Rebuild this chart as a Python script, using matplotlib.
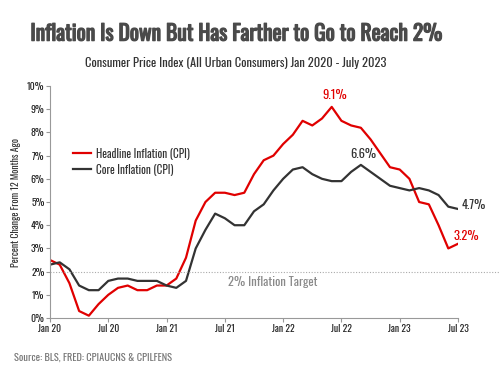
import matplotlib
matplotlib.use("Agg")
import matplotlib.pyplot as plt
from matplotlib import font_manager as fm
import matplotlib.patheffects as pe

names = {f.name for f in fm.fontManager.ttflist}
for cand in ['Oswald', 'Barlow Condensed', 'Fira Sans Condensed', 'Archivo Narrow']:
    if cand in names:
        MAIN = cand
        break
else:
    MAIN = 'DejaVu Sans'
plt.rcParams['font.family'] = [MAIN, 'DejaVu Sans']

months = [f"{y}-{m:02d}" for y in range(2020, 2024) for m in range(1, 13)][:43]
headline = [2.5, 2.3, 1.5, 0.3, 0.1, 0.6, 1.0, 1.3, 1.4, 1.2, 1.2, 1.4,
            1.4, 1.7, 2.6, 4.2, 5.0, 5.4, 5.4, 5.3, 5.4, 6.2, 6.8, 7.0,
            7.5, 7.9, 8.5, 8.3, 8.6, 9.1, 8.5, 8.3, 8.2, 7.7, 7.1, 6.5,
            6.4, 6.0, 5.0, 4.9, 4.0, 3.0, 3.2]
core = [2.3, 2.4, 2.1, 1.4, 1.2, 1.2, 1.6, 1.7, 1.7, 1.6, 1.6, 1.6,
        1.4, 1.3, 1.6, 3.0, 3.8, 4.5, 4.3, 4.0, 4.0, 4.6, 4.9, 5.5,
        6.0, 6.4, 6.5, 6.2, 6.0, 5.9, 5.9, 6.3, 6.6, 6.3, 6.0, 5.7,
        5.6, 5.5, 5.6, 5.5, 5.3, 4.8, 4.7]
xtick_labels = ["Jan 20", "Jul 20", "Jan 21", "Jul 21", "Jan 22", "Jul 22", "Jan 23", "Jul 23"]
ytick_labels = [f"{v}%" for v in range(0, 11)]
target = 2.0

RED = '#e00000'
DARK = '#333333'
GRAY = '#8a8a8a'

fig = plt.figure(figsize=(5, 3.74), dpi=100)
ax = fig.add_axes([0.1, 0.1497, 0.816, 0.6203])
x = list(range(len(months)))
ax.plot(x, headline, color=RED, lw=1.6, label='Headline Inflation (CPI)')
ax.plot(x, core, color=DARK, lw=1.6, label='Core Inflation (CPI)')
ax.axhline(target, color='#aaaaaa', lw=0.8, ls=(0, (1, 1.5)), xmax=1.1, clip_on=False)
ax.set_xlim(0, 42)
ax.set_ylim(0, 10)
ax.set_xticks(range(0, 43, 6))
ax.set_xticklabels(xtick_labels)
ax.set_yticks(range(0, 11))
ax.set_yticklabels(ytick_labels)
for s in ['top', 'right']:
    ax.spines[s].set_visible(False)
for s in ['left', 'bottom']:
    ax.spines[s].set_color('#999999')
    ax.spines[s].set_linewidth(0.8)
ax.tick_params(colors='#999999', length=3, width=0.8, labelsize=7, labelcolor='#222222', pad=1)
ax.set_ylabel('Percent Change From 12 Months Ago', fontsize=7, color='#333333', labelpad=4)

ax.text(18.3, 1.4, '2% Inflation Target', color=GRAY, fontsize=9)
ax.annotate('9.1%', (29, 9.1), xytext=(2, 6), textcoords='offset points', ha='center', color=RED, fontsize=9)
ax.annotate('6.6%', (32, 6.6), xytext=(2, 5), textcoords='offset points', ha='center', color=DARK, fontsize=9)
ax.annotate('4.7%', (42, 4.7), xytext=(2.5, 0), textcoords='offset points', ha='left', color=DARK, fontsize=9)
ax.annotate('3.2%', (42, 3.2), xytext=(-3, 3), textcoords='offset points', ha='left', color=RED, fontsize=9)

ax.legend(loc='upper left', bbox_to_anchor=(0.045, 0.757), frameon=False, fontsize=8, handlelength=1.6,
          handletextpad=0.45, labelcolor='#333333', borderaxespad=0, labelspacing=0.4)

fig.text(0.472, 0.91, 'Inflation Is Down But Has Farther to Go to Reach 2%', ha='center', va='center',
         fontsize=15.5, fontweight='bold', color='#4a4a4a',
         path_effects=[pe.withStroke(linewidth=0.9, foreground='#4a4a4a')])
fig.text(0.472, 0.832, 'Consumer Price Index (All Urban Consumers) Jan 2020 - July 2023', ha='center', va='center',
         fontsize=9, color='#333333')
fig.text(0.028, 0.045, 'Source: BLS, FRED: CPIAUCNS & CPILFENS', ha='left', va='center', fontsize=7.5, color='#777777')
fig.savefig('out.png', dpi=100)
